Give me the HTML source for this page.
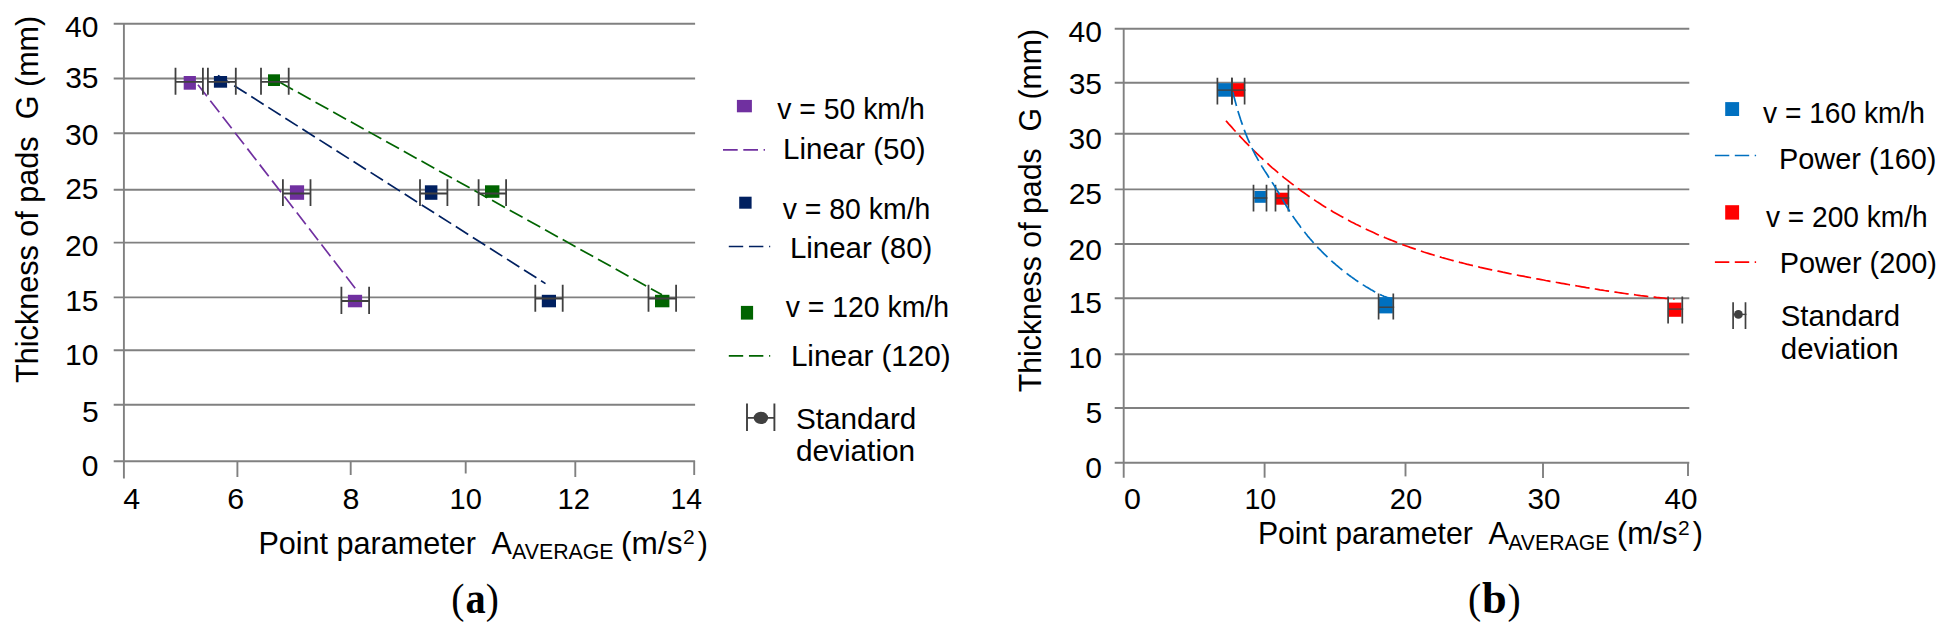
<!DOCTYPE html><html><head><meta charset="utf-8"><title>Figure</title><style>html,body{margin:0;padding:0;background:#fff}svg{display:block}text{font-family:"Liberation Sans",Arial,sans-serif;fill:#000}.cap{font-family:"Liberation Serif","Times New Roman",serif}</style></head><body>
<svg width="1954" height="642" viewBox="0 0 1954 642">
<rect width="1954" height="642" fill="#fff"/>
<line x1="113.7" y1="23.7" x2="695.1" y2="23.7" stroke="#808080" stroke-width="1.9"/>
<line x1="113.7" y1="78.5" x2="695.1" y2="78.5" stroke="#808080" stroke-width="1.9"/>
<line x1="113.7" y1="133.3" x2="695.1" y2="133.3" stroke="#808080" stroke-width="1.9"/>
<line x1="113.7" y1="189.8" x2="695.1" y2="189.8" stroke="#808080" stroke-width="1.9"/>
<line x1="113.7" y1="242.6" x2="695.1" y2="242.6" stroke="#808080" stroke-width="1.9"/>
<line x1="113.7" y1="297.4" x2="695.1" y2="297.4" stroke="#808080" stroke-width="1.9"/>
<line x1="113.7" y1="350.2" x2="695.1" y2="350.2" stroke="#808080" stroke-width="1.9"/>
<line x1="113.7" y1="404.7" x2="695.1" y2="404.7" stroke="#808080" stroke-width="1.9"/>
<line x1="113.7" y1="461.2" x2="695.1" y2="461.2" stroke="#808080" stroke-width="1.9"/>
<line x1="123.9" y1="23.7" x2="123.9" y2="478.6" stroke="#808080" stroke-width="1.9"/>
<line x1="237.4" y1="461.2" x2="237.4" y2="477" stroke="#808080" stroke-width="1.9"/>
<line x1="350.7" y1="461.2" x2="350.7" y2="475" stroke="#808080" stroke-width="1.9"/>
<line x1="465.7" y1="461.2" x2="465.7" y2="473.5" stroke="#808080" stroke-width="1.9"/>
<line x1="575.3" y1="461.2" x2="575.3" y2="477" stroke="#808080" stroke-width="1.9"/>
<line x1="694.2" y1="461.2" x2="694.2" y2="475" stroke="#808080" stroke-width="1.9"/>
<text x="65.1" y="37" font-size="30">40</text>
<text x="65.2" y="87.5" font-size="30">35</text>
<text x="65.1" y="144.5" font-size="30">30</text>
<text x="65.2" y="199.4" font-size="30">25</text>
<text x="65.1" y="256" font-size="30">20</text>
<text x="65.2" y="310.8" font-size="30">15</text>
<text x="65.1" y="365.4" font-size="30">10</text>
<text x="81.9" y="421.7" font-size="30">5</text>
<text x="81.8" y="475.8" font-size="30">0</text>
<text x="123.3" y="508.8" font-size="30.4">4</text>
<text x="227.2" y="508.8" font-size="30.4">6</text>
<text x="342.5" y="508.8" font-size="30.4">8</text>
<text x="449.6" y="508.8" font-size="30.4" textLength="32.3" lengthAdjust="spacingAndGlyphs">10</text>
<text x="557.4" y="508.8" font-size="30.4" textLength="32.5" lengthAdjust="spacingAndGlyphs">12</text>
<text x="670.6" y="508.8" font-size="30.4" textLength="31.5" lengthAdjust="spacingAndGlyphs">14</text>
<line x1="1114.7" y1="28.7" x2="1689.3" y2="28.7" stroke="#808080" stroke-width="1.9"/>
<line x1="1114.7" y1="82.8" x2="1689.3" y2="82.8" stroke="#808080" stroke-width="1.9"/>
<line x1="1114.7" y1="133.7" x2="1689.3" y2="133.7" stroke="#808080" stroke-width="1.9"/>
<line x1="1114.7" y1="189.4" x2="1689.3" y2="189.4" stroke="#808080" stroke-width="1.9"/>
<line x1="1114.7" y1="244" x2="1689.3" y2="244" stroke="#808080" stroke-width="1.9"/>
<line x1="1114.7" y1="298.2" x2="1689.3" y2="298.2" stroke="#808080" stroke-width="1.9"/>
<line x1="1114.7" y1="354.2" x2="1689.3" y2="354.2" stroke="#808080" stroke-width="1.9"/>
<line x1="1114.7" y1="408" x2="1689.3" y2="408" stroke="#808080" stroke-width="1.9"/>
<line x1="1114.7" y1="462.8" x2="1689.3" y2="462.8" stroke="#808080" stroke-width="1.9"/>
<line x1="1123.7" y1="28.7" x2="1123.7" y2="477.8" stroke="#808080" stroke-width="1.9"/>
<line x1="1264.6" y1="462.8" x2="1264.6" y2="477.7" stroke="#808080" stroke-width="1.9"/>
<line x1="1405.5" y1="462.8" x2="1405.5" y2="476.4" stroke="#808080" stroke-width="1.9"/>
<line x1="1543" y1="462.8" x2="1543" y2="477.9" stroke="#808080" stroke-width="1.9"/>
<line x1="1688" y1="462.8" x2="1688" y2="476.1" stroke="#808080" stroke-width="1.9"/>
<text x="1068.6" y="42.4" font-size="30">40</text>
<text x="1068.7" y="93.5" font-size="30">35</text>
<text x="1068.6" y="149" font-size="30">30</text>
<text x="1068.7" y="204.1" font-size="30">25</text>
<text x="1068.6" y="260.2" font-size="30">20</text>
<text x="1068.7" y="313.3" font-size="30">15</text>
<text x="1068.6" y="367.9" font-size="30">10</text>
<text x="1085.4" y="423.4" font-size="30">5</text>
<text x="1085.3" y="478.3" font-size="30">0</text>
<text x="1124.0" y="509" font-size="30.4">0</text>
<text x="1244.4" y="509" font-size="30.4" textLength="31.9" lengthAdjust="spacingAndGlyphs">10</text>
<text x="1389.8" y="509" font-size="30.4" textLength="32.5" lengthAdjust="spacingAndGlyphs">20</text>
<text x="1527.4" y="509" font-size="30.4" textLength="33.0" lengthAdjust="spacingAndGlyphs">30</text>
<text x="1664.5" y="509" font-size="30.4" textLength="33.0" lengthAdjust="spacingAndGlyphs">40</text>
<line x1="196.8" y1="83.2" x2="355.5" y2="288.6" stroke="#7030A0" stroke-width="1.7" stroke-dasharray="14.7 5.5" stroke-dashoffset="-1.9"/>
<line x1="218" y1="75.4" x2="545.5" y2="283.6" stroke="#002060" stroke-width="1.7" stroke-dasharray="14.7 5.5" stroke-dashoffset="-19.2"/>
<line x1="274" y1="79.1" x2="662" y2="294.8" stroke="#006400" stroke-width="1.7" stroke-dasharray="14.7 5.5" stroke-dashoffset="-7.1"/>
<rect x="183.7" y="76" width="12.2" height="13.7" fill="#7030A0"/>
<rect x="289.9" y="185.3" width="14.2" height="14.5" fill="#7030A0"/>
<rect x="347.9" y="294.8" width="14.2" height="12.5" fill="#7030A0"/>
<rect x="213.9" y="76" width="13.2" height="11.7" fill="#002060"/>
<rect x="424.9" y="185.3" width="12.5" height="14.5" fill="#002060"/>
<rect x="541.8" y="294.8" width="14.2" height="12.5" fill="#002060"/>
<rect x="268" y="74.3" width="12" height="11.7" fill="#006400"/>
<rect x="485" y="185.3" width="14.4" height="12.5" fill="#006400"/>
<rect x="655" y="294.8" width="14.4" height="12.5" fill="#006400"/>
<path d="M175.5 67.8V94.7M202.9 67.8V94.7M175.5 81.8H202.9" stroke="#404040" stroke-width="1.8" fill="none"/>
<path d="M207.9 67.8V94.7M235.8 67.8V94.7M207.9 81.8H235.8" stroke="#404040" stroke-width="1.8" fill="none"/>
<path d="M261 67.8V94.7M288.7 67.8V94.7M261 81.8H288.7" stroke="#404040" stroke-width="1.8" fill="none"/>
<path d="M282.9 179.3V206M310.5 179.3V206M282.9 193.5H310.5" stroke="#404040" stroke-width="1.8" fill="none"/>
<path d="M420 179.3V206M447.4 179.3V206M420 193.5H447.4" stroke="#404040" stroke-width="1.8" fill="none"/>
<path d="M478.6 179.3V206M506.1 179.3V206M478.6 193.5H506.1" stroke="#404040" stroke-width="1.8" fill="none"/>
<path d="M341.4 286.8V314M369.1 286.8V314M341.4 301H369.1" stroke="#404040" stroke-width="1.8" fill="none"/>
<path d="M535.3 284.8V311.8M562.7 284.8V311.8M535.3 298.5H562.7" stroke="#404040" stroke-width="1.8" fill="none"/>
<path d="M648.5 284.8V311.8M676.1 284.8V311.8M648.5 298.5H676.1" stroke="#404040" stroke-width="1.8" fill="none"/>
<path d="M1224.9 119.5 L1227.2 122.1 L1229.4 124.7 L1231.7 127.2 L1233.9 129.7 L1236.2 132.2 L1238.5 134.7 L1240.7 137.1 L1243.0 139.5 L1245.2 141.8 L1247.5 144.2 L1249.8 146.5 L1252.0 148.7 L1254.3 151.0 L1256.5 153.2 L1258.8 155.3 L1261.0 157.5 L1263.3 159.6 L1265.6 161.7 L1267.8 163.7 L1270.1 165.8 L1272.3 167.8 L1274.6 169.7 L1276.9 171.7 L1279.1 173.6 L1281.4 175.4 L1283.6 177.3 L1285.9 179.1 L1288.2 180.9 L1290.4 182.7 L1292.7 184.4 L1294.9 186.2 L1297.2 187.9 L1299.5 189.5 L1301.7 191.2 L1304.0 192.8 L1306.2 194.4 L1308.5 196.0 L1310.8 197.5 L1313.0 199.1 L1315.3 200.6 L1317.5 202.1 L1319.8 203.5 L1322.0 205.0 L1324.3 206.4 L1326.6 207.8 L1328.8 209.2 L1331.1 210.5 L1333.3 211.9 L1335.6 213.2 L1337.9 214.5 L1340.1 215.8 L1342.4 217.0 L1344.6 218.3 L1346.9 219.5 L1349.2 220.7 L1351.4 221.9 L1353.7 223.0 L1355.9 224.2 L1358.2 225.3 L1360.5 226.5 L1362.7 227.6 L1365.0 228.7 L1367.2 229.7 L1369.5 230.8 L1371.8 231.8 L1374.0 232.8 L1376.3 233.9 L1378.5 234.9 L1380.8 235.8 L1383.1 236.8 L1385.3 237.8 L1387.6 238.7 L1389.8 239.6 L1392.1 240.5 L1394.3 241.4 L1396.6 242.3 L1398.9 243.2 L1401.1 244.0 L1403.4 244.9 L1405.6 245.7 L1407.9 246.5 L1410.2 247.4 L1412.4 248.1 L1414.7 248.9 L1416.9 249.7 L1419.2 250.5 L1421.5 251.2 L1423.7 252.0 L1426.0 252.7 L1428.2 253.4 L1430.5 254.1 L1432.8 254.8 L1435.0 255.5 L1437.3 256.2 L1439.5 256.8 L1441.8 257.5 L1444.1 258.1 L1446.3 258.7 L1448.6 259.4 L1450.8 260.0 L1453.1 260.6 L1455.3 261.2 L1457.6 261.8 L1459.9 262.4 L1462.1 262.9 L1464.4 263.5 L1466.6 264.1 L1468.9 264.6 L1471.2 265.2 L1473.4 265.7 L1475.7 266.2 L1477.9 266.7 L1480.2 267.3 L1482.5 267.8 L1484.7 268.3 L1487.0 268.8 L1489.2 269.3 L1491.5 269.8 L1493.8 270.3 L1496.0 270.8 L1498.3 271.2 L1500.5 271.7 L1502.8 272.2 L1505.1 272.6 L1507.3 273.1 L1509.6 273.6 L1511.8 274.0 L1514.1 274.5 L1516.3 274.9 L1518.6 275.4 L1520.9 275.8 L1523.1 276.2 L1525.4 276.7 L1527.6 277.1 L1529.9 277.5 L1532.2 278.0 L1534.4 278.4 L1536.7 278.8 L1538.9 279.2 L1541.2 279.6 L1543.5 280.0 L1545.7 280.5 L1548.0 280.9 L1550.2 281.3 L1552.5 281.7 L1554.8 282.1 L1557.0 282.5 L1559.3 282.9 L1561.5 283.3 L1563.8 283.7 L1566.1 284.1 L1568.3 284.5 L1570.6 284.9 L1572.8 285.2 L1575.1 285.6 L1577.4 286.0 L1579.6 286.4 L1581.9 286.8 L1584.1 287.2 L1586.4 287.6 L1588.6 287.9 L1590.9 288.3 L1593.2 288.7 L1595.4 289.0 L1597.7 289.4 L1599.9 289.8 L1602.2 290.1 L1604.5 290.5 L1606.7 290.8 L1609.0 291.2 L1611.2 291.5 L1613.5 291.9 L1615.8 292.2 L1618.0 292.5 L1620.3 292.8 L1622.5 293.2 L1624.8 293.5 L1627.1 293.8 L1629.3 294.1 L1631.6 294.4 L1633.8 294.7 L1636.1 295.0 L1638.4 295.3 L1640.6 295.6 L1642.9 295.8 L1645.1 296.1 L1647.4 296.4 L1649.6 296.6 L1651.9 296.9 L1654.2 297.1 L1656.4 297.4 L1658.7 297.6 L1660.9 297.8 L1663.2 298.0 L1665.5 298.3 L1667.7 298.5 L1670.0 298.7 L1672.2 298.9 L1674.5 299.1" stroke="#FF0000" stroke-width="1.7" stroke-dasharray="14.5 5.3" stroke-dashoffset="-1.6" fill="none"/>
<rect x="1232.3" y="83.2" width="12.3" height="13.5" fill="#FF0000"/>
<rect x="1276" y="192.7" width="12.4" height="12.0" fill="#FF0000"/>
<rect x="1668.9" y="302.6" width="12.6" height="14.2" fill="#FF0000"/>
<path d="M1231.9 77.7V104.6M1244.6 77.7V104.6" stroke="#404040" stroke-width="1.7" fill="none"/>
<path d="M1231.9 90.1H1245.5" stroke="#404040" stroke-width="1.4" fill="none"/>
<path d="M1275.5 184.7V211.4M1288.4 184.7V211.4" stroke="#404040" stroke-width="1.7" fill="none"/>
<path d="M1275.5 198H1289.3000000000002" stroke="#404040" stroke-width="1.4" fill="none"/>
<path d="M1668.1 296.5V323.6M1682.3 296.5V323.6" stroke="#404040" stroke-width="1.7" fill="none"/>
<path d="M1668.1 309.1H1683.2" stroke="#404040" stroke-width="1.4" fill="none"/>
<path d="M1232.8 92.0 L1233.6 95.2 L1234.4 98.2 L1235.2 101.2 L1236.0 104.1 L1236.7 106.9 L1237.5 109.6 L1238.3 112.3 L1239.1 114.8 L1239.9 117.3 L1240.7 119.8 L1241.5 122.1 L1242.3 124.4 L1243.1 126.6 L1243.9 128.8 L1244.6 130.9 L1245.4 132.9 L1246.2 134.9 L1247.0 136.9 L1247.8 138.8 L1248.6 140.6 L1249.4 142.4 L1250.2 144.2 L1251.0 145.9 L1251.8 147.6 L1252.5 149.2 L1253.3 150.8 L1254.1 152.4 L1254.9 154.0 L1255.7 155.5 L1256.5 156.9 L1257.3 158.4 L1258.1 159.8 L1258.9 161.2 L1259.7 162.6 L1260.4 163.9 L1261.2 165.2 L1262.0 166.6 L1262.8 167.8 L1263.6 169.1 L1264.4 170.4 L1265.2 171.6 L1266.0 172.8 L1266.8 174.0 L1267.6 175.3 L1268.3 176.5 L1269.1 177.7 L1269.9 178.9 L1270.7 180.1 L1271.5 181.3 L1272.3 182.6 L1273.1 183.8 L1273.9 185.1 L1274.7 186.3 L1275.5 187.6 L1276.2 188.9 L1277.0 190.2 L1277.8 191.5 L1278.6 192.8 L1279.4 194.2 L1280.2 195.5 L1281.0 196.9 L1281.8 198.2 L1282.6 199.6 L1283.4 200.9 L1284.1 202.2 L1284.9 203.6 L1285.7 204.9 L1286.5 206.2 L1287.3 207.5 L1288.1 208.8 L1288.9 210.0 L1289.7 211.3 L1290.5 212.5 L1291.3 213.7 L1292.0 214.9 L1292.8 216.1 L1293.6 217.3 L1294.4 218.4 L1295.2 219.6 L1296.0 220.7 L1296.8 221.8 L1297.6 222.9 L1298.4 224.0 L1299.2 225.1 L1299.9 226.1 L1300.7 227.2 L1301.5 228.2 L1302.3 229.3 L1303.1 230.3 L1303.9 231.3 L1304.7 232.3 L1305.5 233.3 L1306.3 234.2 L1307.1 235.2 L1307.8 236.2 L1308.6 237.1 L1309.4 238.0 L1310.2 239.0 L1311.0 239.9 L1311.8 240.8 L1312.6 241.7 L1313.4 242.6 L1314.2 243.5 L1315.0 244.3 L1315.7 245.2 L1316.5 246.1 L1317.3 246.9 L1318.1 247.8 L1318.9 248.6 L1319.7 249.4 L1320.5 250.2 L1321.3 251.0 L1322.1 251.8 L1322.9 252.6 L1323.6 253.4 L1324.4 254.2 L1325.2 255.0 L1326.0 255.7 L1326.8 256.5 L1327.6 257.2 L1328.4 258.0 L1329.2 258.7 L1330.0 259.5 L1330.8 260.2 L1331.5 260.9 L1332.3 261.6 L1333.1 262.3 L1333.9 263.0 L1334.7 263.7 L1335.5 264.4 L1336.3 265.1 L1337.1 265.7 L1337.9 266.4 L1338.7 267.1 L1339.4 267.7 L1340.2 268.4 L1341.0 269.0 L1341.8 269.6 L1342.6 270.3 L1343.4 270.9 L1344.2 271.5 L1345.0 272.1 L1345.8 272.7 L1346.6 273.3 L1347.3 273.9 L1348.1 274.5 L1348.9 275.1 L1349.7 275.7 L1350.5 276.3 L1351.3 276.9 L1352.1 277.4 L1352.9 278.0 L1353.7 278.5 L1354.5 279.1 L1355.2 279.6 L1356.0 280.2 L1356.8 280.7 L1357.6 281.3 L1358.4 281.8 L1359.2 282.3 L1360.0 282.8 L1360.8 283.4 L1361.6 283.9 L1362.4 284.4 L1363.1 284.9 L1363.9 285.4 L1364.7 285.9 L1365.5 286.4 L1366.3 286.9 L1367.1 287.3 L1367.9 287.8 L1368.7 288.3 L1369.5 288.8 L1370.3 289.2 L1371.0 289.7 L1371.8 290.1 L1372.6 290.6 L1373.4 291.0 L1374.2 291.5 L1375.0 291.9 L1375.8 292.4 L1376.6 292.8 L1377.4 293.2 L1378.2 293.6 L1378.9 294.0 L1379.7 294.4 L1380.5 294.8 L1381.3 295.1 L1382.1 295.5 L1382.9 295.8 L1383.7 296.2 L1384.5 296.5 L1385.3 296.8 L1386.1 297.1 L1386.8 297.4 L1387.6 297.6 L1388.4 297.9 L1389.2 298.1 L1390.0 298.4" stroke="#0070C0" stroke-width="1.7" stroke-dasharray="14.5 5.3" stroke-dashoffset="-19.7" fill="none"/>
<rect x="1218.1" y="83.2" width="13.5" height="13.5" fill="#0070C0"/>
<rect x="1254.4" y="191" width="11.5" height="11.8" fill="#0070C0"/>
<rect x="1379" y="297.2" width="13.8" height="16.2" fill="#0070C0"/>
<path d="M1217.4 77.7V104.6M1231.9 77.7V104.6" stroke="#404040" stroke-width="1.7" fill="none"/>
<path d="M1217.4 90.1H1232.8000000000002" stroke="#404040" stroke-width="1.4" fill="none"/>
<path d="M1253.5 184.7V211.4M1266.5 184.7V211.4" stroke="#404040" stroke-width="1.7" fill="none"/>
<path d="M1253.5 198H1267.4" stroke="#404040" stroke-width="1.4" fill="none"/>
<path d="M1378.6 293.5V319.6M1393.3 293.5V319.6" stroke="#404040" stroke-width="1.7" fill="none"/>
<path d="M1378.6 307.2H1394.2" stroke="#404040" stroke-width="1.4" fill="none"/>
<text x="258.4" y="553.8" font-size="30.5" textLength="217.6" lengthAdjust="spacingAndGlyphs">Point parameter</text>
<text x="491.6" y="553.8" font-size="30.5">A</text>
<text x="512.1" y="558.7" font-size="21.8" textLength="101.5" lengthAdjust="spacingAndGlyphs">AVERAGE</text>
<text x="621.1" y="553.8" font-size="30.5" textLength="61.4" lengthAdjust="spacingAndGlyphs">(m/s</text>
<text x="682.9" y="543.9" font-size="21">2</text>
<text x="697.8" y="553.8" font-size="30.5">)</text>
<text x="1257.9" y="544" font-size="30.5" textLength="214.9" lengthAdjust="spacingAndGlyphs">Point parameter</text>
<text x="1488.4" y="544" font-size="30.5">A</text>
<text x="1508.3" y="549.7" font-size="21.8" textLength="101.0" lengthAdjust="spacingAndGlyphs">AVERAGE</text>
<text x="1616.8" y="544" font-size="30.5" textLength="60.8" lengthAdjust="spacingAndGlyphs">(m/s</text>
<text x="1677.9" y="535.2" font-size="21">2</text>
<text x="1692.8" y="544" font-size="30.5">)</text>
<text transform="translate(38 382.9) rotate(-90)" font-size="30.5" textLength="367.2" lengthAdjust="spacingAndGlyphs" xml:space="preserve">Thickness of pads  G (mm)</text>
<text transform="translate(1040.5 392.3) rotate(-90)" font-size="30.5" textLength="363.3" lengthAdjust="spacingAndGlyphs" xml:space="preserve">Thickness of pads  G (mm)</text>
<rect x="736.9" y="99.9" width="15.0" height="12.4" fill="#7030A0"/>
<text x="777.2" y="119.3" font-size="28.7" textLength="147.5" lengthAdjust="spacingAndGlyphs">v = 50 km/h</text>
<line x1="723" y1="149.8" x2="765" y2="149.8" stroke="#7030A0" stroke-width="1.7" stroke-dasharray="14.7 5.6" stroke-dashoffset="0.0"/>
<text x="783.0" y="158.5" font-size="28.7" textLength="142.7" lengthAdjust="spacingAndGlyphs">Linear (50)</text>
<rect x="739.2" y="196.7" width="12.4" height="12.0" fill="#002060"/>
<text x="782.7" y="219.4" font-size="28.7" textLength="147.7" lengthAdjust="spacingAndGlyphs">v = 80 km/h</text>
<line x1="728.8" y1="246.5" x2="770.2" y2="246.5" stroke="#002060" stroke-width="1.7" stroke-dasharray="14.4 5.75" stroke-dashoffset="0.0"/>
<text x="789.9" y="258" font-size="28.7" textLength="142.5" lengthAdjust="spacingAndGlyphs">Linear (80)</text>
<rect x="740.9" y="305.9" width="12.2" height="13.7" fill="#006400"/>
<text x="785.8" y="317.3" font-size="28.7" textLength="163.2" lengthAdjust="spacingAndGlyphs">v = 120 km/h</text>
<line x1="728.8" y1="355.8" x2="770.2" y2="355.8" stroke="#006400" stroke-width="1.7" stroke-dasharray="14.4 5.75" stroke-dashoffset="0.0"/>
<text x="790.9" y="365.7" font-size="28.7" textLength="159.8" lengthAdjust="spacingAndGlyphs">Linear (120)</text>
<path d="M747 403.5V431M774.4 403.5V431M747 417.9H774.4" stroke="#404040" stroke-width="1.9" fill="none"/>
<ellipse cx="760.9" cy="417.9" rx="7.2" ry="6.2" fill="#404040"/>
<text x="795.9" y="428.9" font-size="28.7" textLength="120.5" lengthAdjust="spacingAndGlyphs">Standard</text>
<text x="796.0" y="461.3" font-size="28.7" textLength="119.1" lengthAdjust="spacingAndGlyphs">deviation</text>
<rect x="1725.2" y="102.1" width="13.9" height="13.9" fill="#0070C0"/>
<text x="1763.0" y="123.2" font-size="28.7" textLength="162.0" lengthAdjust="spacingAndGlyphs">v = 160 km/h</text>
<line x1="1714.9" y1="155.5" x2="1756.1" y2="155.5" stroke="#0070C0" stroke-width="1.7" stroke-dasharray="14.4 5.5" stroke-dashoffset="0.0"/>
<text x="1779.0" y="168.6" font-size="28.7" textLength="157.4" lengthAdjust="spacingAndGlyphs">Power (160)</text>
<rect x="1725.2" y="205.2" width="13.9" height="14.4" fill="#FF0000"/>
<text x="1766.0" y="226.7" font-size="28.7" textLength="161.6" lengthAdjust="spacingAndGlyphs">v = 200 km/h</text>
<line x1="1714.9" y1="262.1" x2="1756.1" y2="262.1" stroke="#FF0000" stroke-width="1.7" stroke-dasharray="14.4 5.5" stroke-dashoffset="0.0"/>
<text x="1779.7" y="273.3" font-size="28.7" textLength="157.3" lengthAdjust="spacingAndGlyphs">Power (200)</text>
<path d="M1733.1 302.2V329M1745.5 302.2V329" stroke="#404040" stroke-width="1.7" fill="none"/>
<path d="M1733.1 314.4H1746.4" stroke="#404040" stroke-width="1.4" fill="none"/>
<circle cx="1738.4" cy="314.4" r="4.4" fill="#404040"/>
<text x="1780.7" y="326" font-size="28.7" textLength="119.3" lengthAdjust="spacingAndGlyphs">Standard</text>
<text x="1780.8" y="358.9" font-size="28.7" textLength="117.9" lengthAdjust="spacingAndGlyphs">deviation</text>
<text x="451.3" y="613" font-size="42" textLength="13.2" lengthAdjust="spacingAndGlyphs" class="cap">(</text>
<text x="465.4" y="613" font-size="44" textLength="20.2" lengthAdjust="spacingAndGlyphs" class="cap" font-weight="bold">a</text>
<text x="485.7" y="613" font-size="42" textLength="13.1" lengthAdjust="spacingAndGlyphs" class="cap">)</text>
<text x="1468.1" y="613.2" font-size="42" textLength="13.2" lengthAdjust="spacingAndGlyphs" class="cap">(</text>
<text x="1482.1" y="613.2" font-size="44" textLength="24.7" lengthAdjust="spacingAndGlyphs" class="cap" font-weight="bold">b</text>
<text x="1507.6" y="613.2" font-size="42" textLength="13.2" lengthAdjust="spacingAndGlyphs" class="cap">)</text>
</svg></body></html>
